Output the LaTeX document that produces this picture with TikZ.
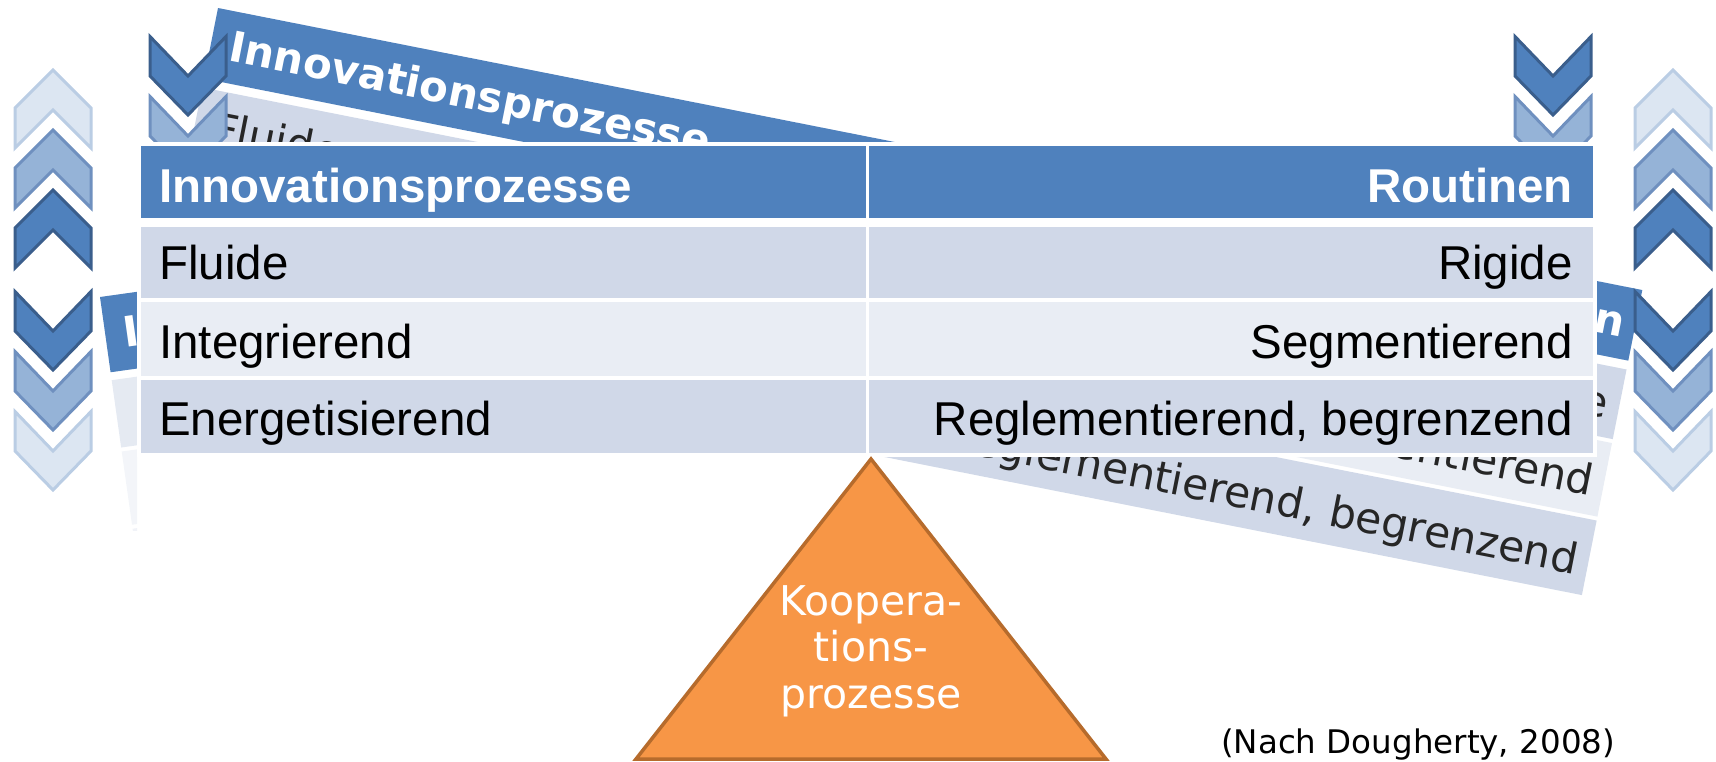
\documentclass[tikz,border=0pt]{standalone}
\usepackage{fontspec}
\setmainfont{Liberation Sans}
\newfontfamily\verd{DejaVu Sans}
\usepackage{tikz}
\usetikzlibrary{calc}

\definecolor{hdblue}{HTML}{4F81BD}
\definecolor{rowdark}{HTML}{D0D8E8}
\definecolor{rowlight}{HTML}{E9EDF4}
\definecolor{chevdarkfill}{HTML}{4F81BD}
\definecolor{chevdarkline}{HTML}{3A5E8C}
\definecolor{chevmidfill}{HTML}{95B3D7}
\definecolor{chevmidline}{HTML}{6F90BF}
\definecolor{chevlightfill}{HTML}{DCE6F2}
\definecolor{chevlightline}{HTML}{BACDE4}
\definecolor{triorange}{HTML}{F79646}
\definecolor{triline}{HTML}{B66B2C}

\newcommand\chevup[3]{\draw[#3] (#1,#2+2) -- (#1+38,#2+40) -- (#1+38,#2+80) -- (#1,#2+42) -- (#1-38,#2+80) -- (#1-38,#2+40) -- cycle;}
\newcommand\chevdown[3]{\draw[#3] (#1-38,#2+1.5) -- (#1,#2+41) -- (#1+38,#2+1.5) -- (#1+38,#2+41) -- (#1,#2+80) -- (#1-38,#2+41) -- cycle;}

\begin{document}
\begin{tikzpicture}[x=1pt, y=-1pt,
    hdtext/.style={text=white, font=\bfseries\fontsize{47.5}{57}\selectfont, inner sep=0pt},
    celltext/.style={text=black, font=\fontsize{47.5}{57}\selectfont, inner sep=0pt},
    bghd/.style={text=white, font=\verd\bfseries\fontsize{42}{50}\selectfont, inner sep=0pt},
    bgcell/.style={text=black!85, font=\verd\fontsize{42.5}{50}\selectfont, inner sep=0pt},
    chevdark/.style={fill=chevdarkfill, draw=chevdarkline, line width=3pt},
    chevmid/.style={fill=chevmidfill, draw=chevmidline, line width=3pt},
    chevlight/.style={fill=chevlightfill, draw=chevlightline, line width=3pt}]

    \useasboundingbox (0,0) rectangle (1716,761);

    % tilted copy behind
    \begin{scope}[shift={(218,8)}, rotate=-11.2, transform shape]
        \fill[white] (0,0) rectangle (1452,311);
        \fill[hdblue] (0,0) rectangle (1452,72);
        \fill[rowdark] (0,81) rectangle (1452,152);
        \fill[rowlight] (0,156) rectangle (1452,231);
        \fill[rowdark] (0,235) rectangle (1452,311);
        \node[bghd, anchor=base west] (bgA-hd-l) at (19,50) {Innovationsprozesse};
        \node[bghd, anchor=base east] (bgA-hd-r) at (1441,50) {Routinen};
        \node[bgcell, anchor=base west] (bgA-1-l) at (19,133) {Fluide};
        \node[bgcell, anchor=base east] (bgA-1-r) at (1441,133) {Rigide};
        \node[bgcell, anchor=base east] (bgA-2-r) at (1441,212) {Segmentierend};
        \node[bgcell, anchor=base east] (bgA-3-r) at (1441,292) {Reglementierend, begrenzend};
    \end{scope}

    % second copy, only its left end shows
    \begin{scope}
        \clip (90,240) rectangle (137,530);
        \begin{scope}[shift={(100,297)}, rotate=8, transform shape]
            \fill[hdblue] (0,0) rectangle (400,76);
            \fill[rowdark, opacity=.55] (0,84) rectangle (400,152);
            \fill[rowlight, opacity=.55] (0,156) rectangle (400,230);
            \fill[rowdark, opacity=.3] (0,234) rectangle (400,307);
            \node[bghd, anchor=base west] (bgB-hd-l) at (18,54) {Innovationsprozesse};
        \end{scope}
    \end{scope}

    \foreach \cx in {53,1673} {
        \chevup{\cx}{68}{chevlight}
        \chevup{\cx}{128}{chevmid}
        \chevup{\cx}{188}{chevdark}
        \chevdown{\cx}{290}{chevdark}
        \chevdown{\cx}{350}{chevmid}
        \chevdown{\cx}{410}{chevlight}
    }
    \foreach \cx in {188,1553} {
        \chevdown{\cx}{35}{chevdark}
        \chevdown{\cx}{95}{chevmid}
    }

    % table
    \fill[white] (137,142) rectangle (1597,457);
    \fill[hdblue] (141,146) rectangle (1593,218);
    \fill[rowdark] (141,227) rectangle (1593,298);
    \fill[rowlight] (141,302) rectangle (1593,376);
    \fill[rowdark] (141,380) rectangle (1593,453);
    \draw[white, line width=3pt] (867,146) -- (867,453);

    \node[hdtext, anchor=base west] (hd-l) at (159,202) {Innovationsprozesse};
    \node[hdtext, anchor=base east] (hd-r) at (1573,202) {Routinen};
    \node[celltext, anchor=base west] (r1-l) at (159,279) {Fluide};
    \node[celltext, anchor=base east] (r1-r) at (1573,279) {Rigide};
    \node[celltext, anchor=base west] (r2-l) at (159,358) {Integrierend};
    \node[celltext, anchor=base east] (r2-r) at (1573,358) {Segmentierend};
    \node[celltext, anchor=base west] (r3-l) at (159,435) {Energetisierend};
    \node[celltext, anchor=base east] (r3-r) at (1573,435) {Reglementierend, begrenzend};

    % triangle
    \coordinate (apex) at (871,459);
    \coordinate (base-l) at (636,759);
    \coordinate (base-r) at (1106,759);
    \draw[fill=triorange, draw=triline, line width=3.5pt] (apex) -- (base-l) -- (base-r) -- cycle;
    \node[text=white, align=center, font=\verd\fontsize{41}{46.5}\selectfont, inner sep=0pt, anchor=base] (koop) at (871,708) {Koopera-\\tions-\\prozesse};

    \node[anchor=base west, inner sep=0pt, font=\verd\fontsize{32.5}{39}\selectfont] (quelle) at (1221,753) {(Nach Dougherty, 2008)};
\end{tikzpicture}
\end{document}
